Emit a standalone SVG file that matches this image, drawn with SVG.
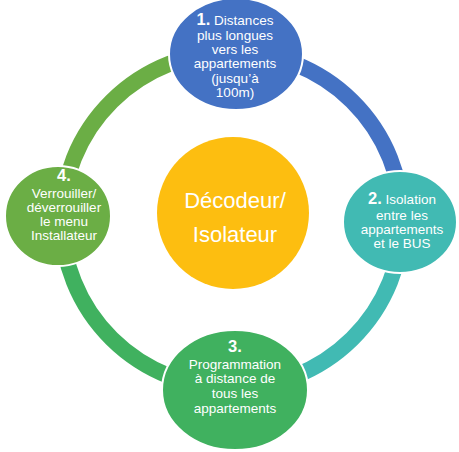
<svg xmlns="http://www.w3.org/2000/svg" width="459" height="452" viewBox="0 0 459 452">
<style>
.ring{fill:none;stroke-width:16}
.node{stroke:#fff;stroke-width:2}
text{font-family:"Liberation Sans",Arial,sans-serif;fill:#fff;text-anchor:middle}
.t{font-size:13.5px}
.n{font-size:16.5px;font-weight:bold}
.c{font-size:22px}
</style>
<rect width="459" height="452" fill="#fff"/>
<g id="connectors">
<path class="ring" stroke="#6BAE45" d="M62,220 A170,168 0 0 1 232,52"/>
<path class="ring" stroke="#4472C4" d="M232,52 A170,168 0 0 1 402,220"/>
<path class="ring" stroke="#41BAB3" d="M402,220 A170,168 0 0 1 232,388"/>
<path class="ring" stroke="#40B15F" d="M232,388 A170,168 0 0 1 62,220"/>
</g>
<g id="center">
<circle cx="233" cy="213" r="76" fill="#FDBE10"/>
<text class="c" x="235" y="208">Décodeur/</text>
<text class="c" x="235" y="242">Isolateur</text>
</g>
<g id="node1">
<ellipse class="node" cx="236" cy="54" rx="67" ry="56" fill="#4472C4"/>
<text class="t" x="235" y="25"><tspan class="n">1.</tspan> Distances</text>
<text class="t" x="235" y="40">plus longues</text>
<text class="t" x="235" y="54">vers les</text>
<text class="t" x="235" y="68">appartements</text>
<text class="t" x="235" y="83">(jusqu’à</text>
<text class="t" x="235" y="97">100m)</text>
</g>
<g id="node2">
<ellipse class="node" cx="400" cy="222" rx="57" ry="51" fill="#41BAB3"/>
<text class="t" x="402" y="204"><tspan class="n">2.</tspan> Isolation</text>
<text class="t" x="402" y="220">entre les</text>
<text class="t" x="402" y="234">appartements</text>
<text class="t" x="402" y="248">et le BUS</text>
</g>
<g id="node3">
<ellipse class="node" cx="235" cy="390" rx="73" ry="60" fill="#40B15F"/>
<text class="n" x="235" y="352">3.</text>
<text class="t" x="235" y="369">Programmation</text>
<text class="t" x="235" y="383">à distance de</text>
<text class="t" x="235" y="398">tous les</text>
<text class="t" x="235" y="413">appartements</text>
</g>
<g id="node4">
<ellipse class="node" cx="58" cy="216" rx="53" ry="50" fill="#6BAE45"/>
<text class="n" x="64" y="181">4.</text>
<text class="t" x="64" y="198">Verrouiller/</text>
<text class="t" x="64" y="212">déverrouiller</text>
<text class="t" x="64" y="226">le menu</text>
<text class="t" x="64" y="240">Installateur</text>
</g>
</svg>
